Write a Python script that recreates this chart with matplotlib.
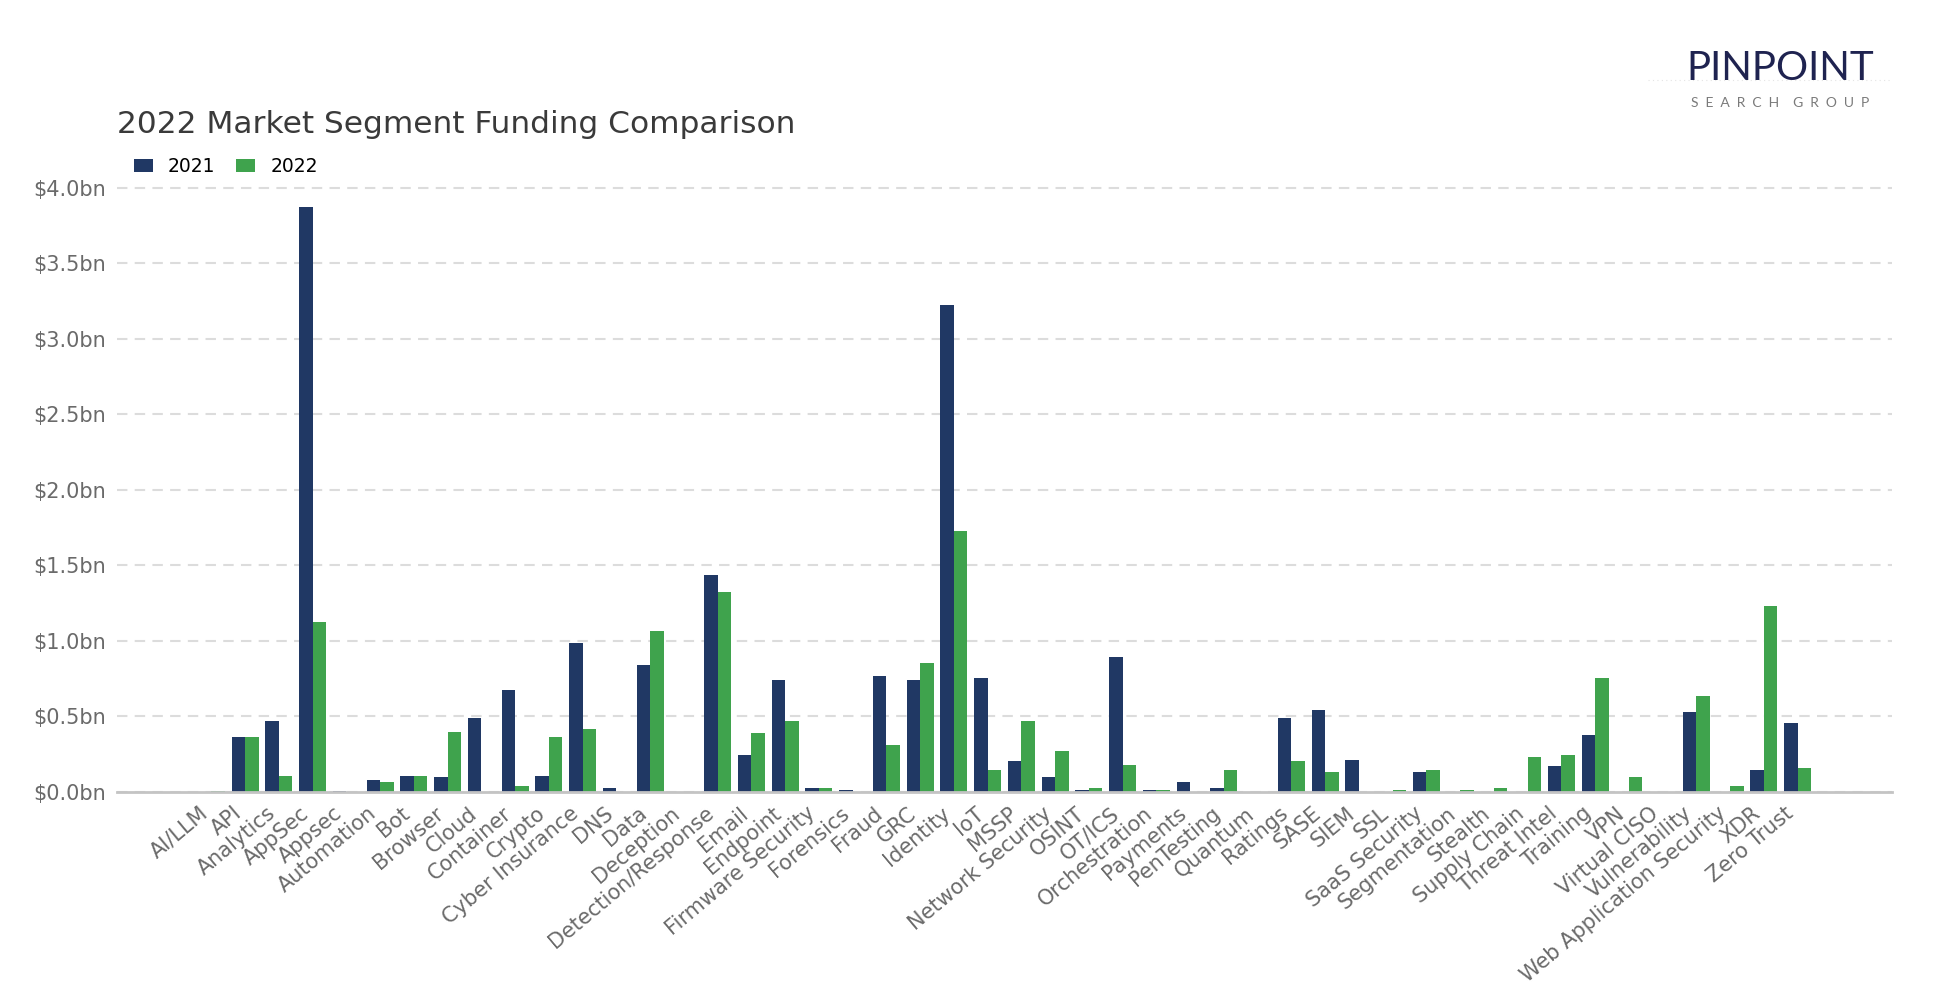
import numpy as np
import matplotlib
matplotlib.use("Agg")
import matplotlib.pyplot as plt
from matplotlib.ticker import FuncFormatter, MultipleLocator

segments = [
    "AI/LLM", "API", "Analytics", "AppSec", "Appsec", "Automation", "Bot",
    "Browser", "Cloud", "Container", "Crypto", "Cyber Insurance", "DNS", "Data",
    "Deception", "Detection/Response", "Email", "Endpoint", "Firmware Security",
    "Forensics", "Fraud", "GRC", "Identity", "IoT", "MSSP", "Network Security",
    "OSINT", "OT/ICS", "Orchestration", "Payments", "PenTesting", "Quantum",
    "Ratings", "SASE", "SIEM", "SSL", "SaaS Security", "Segmentation", "Stealth",
    "Supply Chain", "Threat Intel", "Training", "VPN", "Virtual CISO",
    "Vulnerability", "Web Application Security", "XDR", "Zero Trust",
]

# funding in $bn
funding_2021 = [
    0.0, 0.367, 0.473, 3.87, 0.004, 0.077, 0.109,
    0.096, 0.492, 0.673, 0.104, 0.984, 0.029, 0.843,
    0.0, 1.439, 0.247, 0.739, 0.024,
    0.011, 0.766, 0.739, 3.221, 0.753, 0.207, 0.096,
    0.016, 0.891, 0.011, 0.064, 0.024, 0.0,
    0.487, 0.545, 0.215, 0.0, 0.130, 0.0, 0.0,
    0.0, 0.170, 0.380, 0.0, 0.0,
    0.527, 0.0, 0.144, 0.455,
]
funding_2022 = [
    0.004, 0.362, 0.104, 1.128, 0.0, 0.064, 0.109,
    0.394, 0.0, 0.037, 0.362, 0.415, 0.0, 1.069,
    0.0, 1.327, 0.388, 0.473, 0.024,
    0.0, 0.314, 0.856, 1.731, 0.144, 0.473, 0.269,
    0.024, 0.181, 0.011, 0.0, 0.144, 0.003,
    0.202, 0.130, 0.0, 0.016, 0.144, 0.016, 0.024,
    0.234, 0.242, 0.753, 0.096, 0.003,
    0.633, 0.037, 1.229, 0.157,
]

NAVY = "#203864"
GREEN = "#3fa34d"
TEXT_GREY = "#6a6a6a"

plt.rcParams["font.family"] = ["DejaVu Sans"]

fig = plt.figure(figsize=(19.5, 9.9), dpi=100)
ax = fig.add_axes([0.06, 0.2, 0.9103, 0.618])

x = np.arange(len(segments))
w = 0.4
ax.bar(x - w / 2, funding_2021, w, color=NAVY, label="2021", zorder=3)
ax.bar(x + w / 2, funding_2022, w, color=GREEN, label="2022", zorder=3)

ax.set_xlim(-2.8, 49.8)
ax.set_ylim(0, 4.05)
ax.yaxis.set_major_locator(MultipleLocator(0.5))
ax.yaxis.set_major_formatter(FuncFormatter(lambda v, _: f"${v:.1f}bn"))
ax.yaxis.grid(True, linestyle=(0, (5, 3.5)), color="#dcdcdc", linewidth=1.5, zorder=0)
ax.set_axisbelow(True)

ax.set_xticks(x)
ax.set_xticklabels(segments, rotation=40, ha="right")
ax.tick_params(axis="both", length=0, labelsize=15, labelcolor=TEXT_GREY)
ax.tick_params(axis="y", pad=8)
ax.tick_params(axis="x", pad=8)

for side in ("top", "right", "left"):
    ax.spines[side].set_visible(False)
ax.spines["bottom"].set_color("#c4c4c4")
ax.spines["bottom"].set_linewidth(2)
ax.spines["bottom"].set_zorder(4)

fig.text(0.06, 0.866, "2022 Market Segment Funding Comparison",
         fontsize=22.5, color="#3a3a3a", va="baseline", ha="left")

fig.legend(loc="center left", bbox_to_anchor=(0.0687, 0.832), ncol=2,
           frameon=False, fontsize=13.5, handlelength=1.0, handleheight=0.7,
           handletextpad=0.8, columnspacing=1.13, borderpad=0, borderaxespad=0)

# logo
fig.add_artist(plt.Line2D([0.845, 0.97], [0.919, 0.919], transform=fig.transFigure,
                          color="#e4e4e4", linewidth=0.8, linestyle=(0, (1, 3)), zorder=0))
fig.text(0.9128, 0.919, "PINPOINT", fontsize=29, color="#1f2350",
         ha="center", va="baseline", family=["Lato", "DejaVu Sans"])
fig.text(0.9128, 0.892, "S  E  A  R  C  H    G  R  O  U  P", fontsize=10,
         color="#7a7a7a", ha="center", va="baseline", family=["Lato", "DejaVu Sans"])

fig.savefig("out.png", dpi=100)
